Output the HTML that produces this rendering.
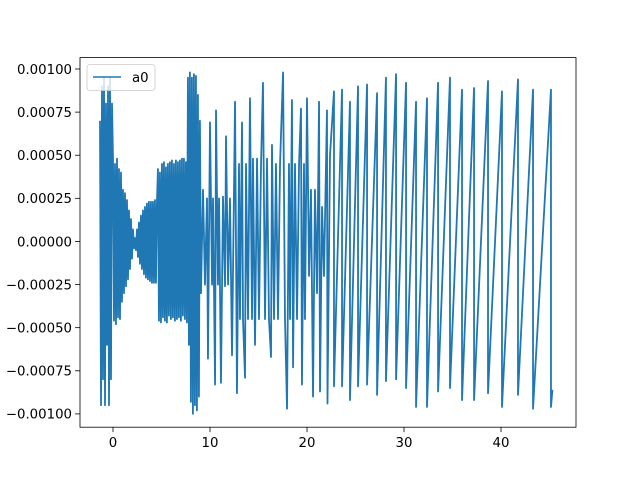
<!DOCTYPE html>
<html><head><meta charset="utf-8"><style>
body{margin:0;background:#fff}
svg{display:block;font-family:"DejaVu Sans","Liberation Sans",sans-serif}
</style></head><body>
<svg id="chart" width="640" height="480">
<rect x="0" y="0" width="640" height="480" fill="#fff"></rect>
<g id="plot"></g>
<g id="axes"></g>
</svg>
<script>
// dense segment 1 (grid start/step, values in 1e-4)
const seg1Start = -1.34;
const seg1Step = 0.103;
const seg1Values = [7,-9.5,9,-8,9.5,-9.5,8,-6,9,-9.5,9.5,-8,8,
4.8,-4.6,4.5,-4.8,4.8,-4.4,4.2,-4.5,4,-3.5,3,
-3,2.8,-2.6,2.4,-2.2,1.8,-1.6,1.3,-1,0.7,-0.4,0.2,
-0.5,0.7,-0.9,1.1,-1.3,1.5,-1.6,1.8,-1.9,2,-2.1,2.2,-2.2,2.3,-2.3,2.3,-2.4,2.3,-2.4,2.4,-2.4,2.3,
4.2,-4.6,4,-4.7,4.5,-4.4,4.6,-4.6,4.3,-4.7,4.5,-4.3,4.6,-4.5,4.7,-4.4,4.5,-4.6,4.7,-4.5,4.6,-4.4,4.7,-4.6,4.8,-4.3,4.8,-4.5,4.6,-4.7,
9.5,-6,9.8,-9.3,9.5,-10,9.7,-9.5,9.6,-9.8,8.5,-9,7];
// segment 2 (times, values in 1e-4)
const seg2Times = [9.07,9.28,9.48,9.69,9.79,10.0,10.21,10.31,10.52,10.62,10.82,10.93,11.13,11.34,11.55,11.65,11.86,12.06,12.27,12.58,12.78,12.99,13.09,13.3,13.4,13.61,13.71,13.92,14.12,14.33,14.43,14.64,14.85,15.05,15.26,15.46,15.67,15.88,16.08,16.29,16.39,16.6,16.8,17.01,17.22,17.53,17.73,17.94,18.14,18.25,18.45,18.56,18.76,18.97,19.18,19.38,19.48,19.69,19.79,20.0,20.21,20.41,20.62,20.82,21.03,21.24,21.34,21.55,21.75,22.06,22.11,22.37];
const seg2Values = [-3,3,-2.5,2.5,-6.8,6.9,-2.5,2.5,-8.3,7.6,-2.5,2.5,-8.2,2.6,-2.6,6.1,-2.5,2.5,-6.6,8.1,-8.8,4.5,-4.5,6.9,-4.5,-7.9,4.5,-4.5,8.3,-4.5,4.8,-6,4.8,-4.5,4.5,9.2,-4.5,4.8,-4.5,-6.7,5.6,-4.5,4.5,-4.5,4.5,9.8,-4.5,-9.7,4.5,-4.5,8.2,-7.3,4.5,-4.5,4.5,7.7,-8.3,4.5,-4.5,8.3,-2,3,-9,3,-3,8.1,-8.7,2,-2,7.6,-9.4,5];
// sawtooth segment (drop times, top and bottom values in 1e-4)
const sawTimes = [22.78,23.61,24.43,25.26,26.19,27.22,28.14,29.18,30.21,31.24,32.37,33.51,34.74,35.98,37.22,38.66,40.1,41.75,43.3,45.15];
const sawTops = [8.7,8.8,8.1,9.0,9.1,8.6,9.5,9.7,9.2,8.1,8.3,9.2,9.5,8.8,8.9,9.3,8.7,9.4,8.8,8.8];
const sawBottoms = [-8.4,-8.4,-9.2,-8.4,-8.3,-8.9,-8.1,-8.0,-8.5,-9.6,-9.6,-8.7,-8.5,-9.2,-9.2,-8.8,-9.6,-8.9,-9.7,-9.6];
const endPoint = [45.3, -8.6];
const xTicks = [0,10,20,30,40];
const yTicks = [-0.001,-0.00075,-0.0005,-0.00025,0,0.00025,0.0005,0.00075,0.001];
const yTickLabels = ["\u22120.00100","\u22120.00075","\u22120.00050","\u22120.00025","0.00000","0.00025","0.00050","0.00075","0.00100"];

const L=80,R=576,T=57.6,B=427.2;
const xMin=-3.402,xMax=47.73,yMin=-0.0010771,yMax=0.0010661;
const sx=t=>L+(t-xMin)/(xMax-xMin)*(R-L);
const sy=v=>B-(v-yMin)/(yMax-yMin)*(B-T);
const NS="http://www.w3.org/2000/svg";
function mk(tag,attrs,parent){const e=document.createElementNS(NS,tag);for(const k in attrs)e.setAttribute(k,attrs[k]);parent.appendChild(e);return e;}

const pts=[];
seg1Values.forEach((v,i)=>pts.push([seg1Start+i*seg1Step,v]));
seg2Times.forEach((t,i)=>pts.push([t,seg2Values[i]]));
sawTimes.forEach((t,i)=>{pts.push([t,sawTops[i]]);pts.push([t,sawBottoms[i]]);});
pts.push(endPoint);

const plot=document.getElementById('plot');
const line=mk('polyline',{points:pts.map(p=>sx(p[0]).toFixed(2)+','+sy(p[1]*1e-4).toFixed(2)).join(' '),fill:'none',stroke:'#1f77b4','stroke-width':1.8,'stroke-linejoin':'round'},plot);



const ax=document.getElementById('axes');
const frame=mk('rect',{x:L,y:T,width:R-L,height:B-T,fill:'none',stroke:'#000','stroke-width':0.8},ax);


xTicks.forEach(t=>{
  const x=sx(t);
  mk('line',{x1:x,x2:x,y1:B,y2:B+4.9,stroke:'#000','stroke-width':0.8},ax);
  const tx=mk('text',{x:x,y:B+20,'text-anchor':'middle','font-size':13.3,fill:'#000'},ax);
  tx.textContent=t;
  
  
});
yTicks.forEach((v,i)=>{
  const y=sy(v);
  mk('line',{x1:L-4.9,x2:L,y1:y,y2:y,stroke:'#000','stroke-width':0.8},ax);
  const tx=mk('text',{x:L-8,y:y+4.8,'text-anchor':'end','font-size':13.3,fill:'#000'},ax);
  tx.textContent=yTickLabels[i];
  
  
});
const lg=mk('g',{},ax);


mk('rect',{x:87,y:64.5,width:68,height:26,rx:3,fill:'#fff','fill-opacity':0.8,stroke:'#ccc','stroke-width':0.8},lg);
mk('line',{x1:93,x2:121,y1:77,y2:77,stroke:'#1f77b4','stroke-width':1.5},lg);
const lt=mk('text',{x:132,y:82,'font-size':13.3,fill:'#000'},lg);
lt.textContent='a0';


</script>
</body></html>
